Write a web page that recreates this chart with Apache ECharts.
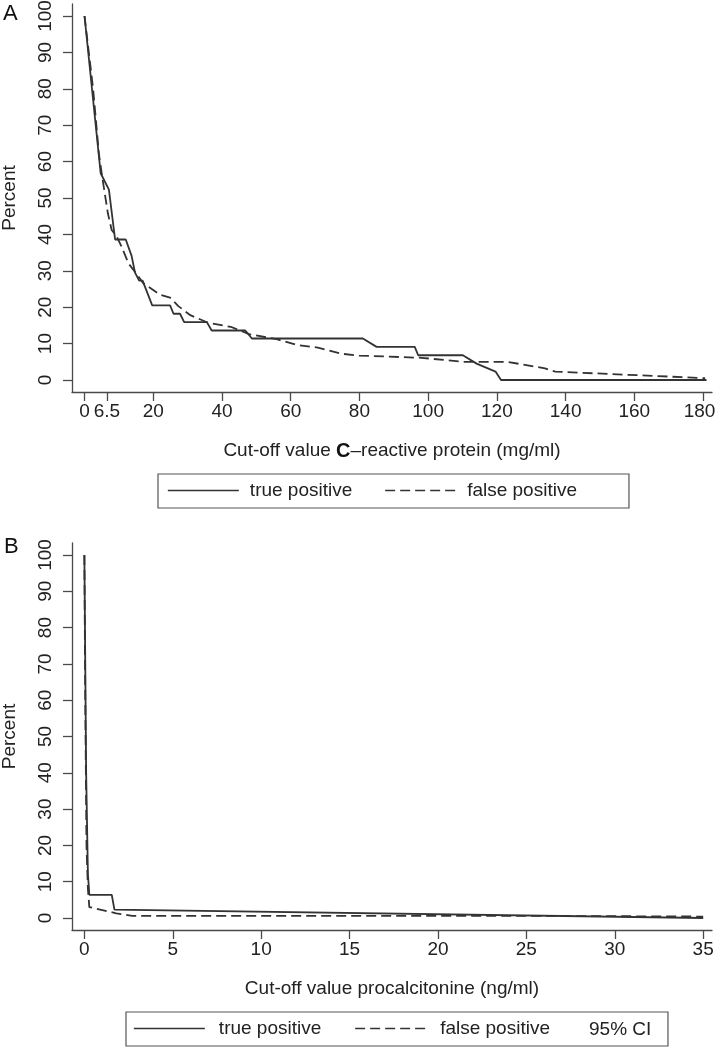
<!DOCTYPE html>
<html>
<head>
<meta charset="utf-8">
<script src="https://cdn.jsdelivr.net/npm/echarts@6/dist/echarts.min.js"></script>
<style>
html,body{margin:0;padding:0;background:#fff;}
#c{width:717px;height:1049px;}
</style>
</head>
<body>
<div id="c"></div>
<script>
// ---- Panel A: C-reactive protein ----
const crpTicks = [0, 6.5, 20, 40, 60, 80, 100, 120, 140, 160, 180];
const crpTruePositive = [
  [0,100],[4.7,56.8],[7.1,52.3],[8.9,38.6],[12,38.6],[13.7,34.1],[14.7,29.5],[15.9,27.3],
  [16.9,27.3],[19.7,20.5],[24.9,20.5],[25.9,18.2],[27.8,18.2],[29,15.9],[35.6,15.9],
  [37,13.6],[46.8,13.6],[48.7,11.4],[81,11.4],[85,9.1],[96.1,9.1],[97.1,6.8],[110.1,6.8],
  [114.1,4.5],[119.6,2.3],[121.2,0],[181,0]
];
const crpFalsePositive = [
  [0,100],[2.5,80],[4.2,62],[5.3,54.9],[6.8,45.8],[7.9,41.2],[9.4,39.4],[10.8,36.6],
  [12.8,32],[15,29.3],[17.1,26.6],[22,23.4],[24.9,22.6],[27.3,20.3],[30.8,17.8],
  [35.8,15.8],[42.9,14.5],[47.9,12.6],[55.9,11.2],[61.9,9.6],[67.9,8.9],[74.9,7.2],
  [79.9,6.7],[98,6.1],[110,5.0],[123,5.0],[134,3.2],[137,2.3],[180.6,0.5]
];
// ---- Panel B: procalcitonine ----
const pctTicks = [0, 5, 10, 15, 20, 25, 30, 35];
const pctTruePositive = [
  [0,100],[0.1,40],[0.2,12],[0.25,8.7],[0.28,6.4],[1.55,6.4],[1.7,2.3],[35,0]
];
const pctFalsePositive = [
  [0,100],[0.05,60],[0.12,20],[0.2,8],[0.28,3.0],[1.8,1.3],[2.7,0.6],[25,0.6],[35,0.4]
];
const yTicks = [0,10,20,30,40,50,60,70,80,90,100];
const seriesNames = ['true positive', 'false positive'];
const ciLabel = '95% CI';

const FONT = '"Liberation Sans", Arial, sans-serif';
const TXT = '#222';
const AX = '#4a4a4a';
const LINE = '#333';

function xAxis(gridIndex, min, max, ticks, name, rich) {
  const last = ticks[ticks.length - 1];
  return {
    type: 'value', gridIndex, min, max,
    axisLine: {show: true, onZero: false, lineStyle: {color: AX, width: 1.3}},
    axisTick: {show: true, length: 9, customValues: ticks, lineStyle: {color: AX, width: 1.3}},
    axisLabel: {customValues: ticks, fontSize: 19, color: TXT, fontFamily: FONT, margin: 10,
      formatter: v => (v === last && String(v).length > 2) ? '{e|' + v + '}' : String(v),
      rich: {e: {fontSize: 19, color: TXT, fontFamily: FONT, padding: [0, 7, 0, 0]}}},
    splitLine: {show: false},
    name, nameLocation: 'middle', nameGap: 49,
    nameTextStyle: Object.assign({fontSize: 19, color: TXT, fontFamily: FONT}, rich ? {rich} : {})
  };
}
function yAxis(gridIndex) {
  return {
    type: 'value', gridIndex, min: -3.3, max: 103.3,
    axisLine: {show: true, onZero: false, lineStyle: {color: AX, width: 1.3}},
    axisTick: {show: true, length: 9, customValues: yTicks, lineStyle: {color: AX, width: 1.3}},
    axisLabel: {customValues: yTicks, rotate: 90, fontSize: 19, color: TXT, fontFamily: FONT, margin: 17},
    splitLine: {show: false},
    name: 'Percent', nameLocation: 'middle', nameGap: 53,
    nameTextStyle: {fontSize: 19, color: TXT, fontFamily: FONT}
  };
}
function line(name, data, xi, dashed) {
  return {
    type: 'line', name, data, xAxisIndex: xi, yAxisIndex: xi,
    showSymbol: false, symbol: 'none', animation: false,
    lineStyle: {color: LINE, width: 1.8, type: dashed ? [10, 5] : 'solid'},
    itemStyle: {color: LINE}
  };
}
function legend(left, top, padding, textPad, gap) {
  return {
    left, top, orient: 'horizontal', itemWidth: 71, itemHeight: 10, itemGap: gap,
    padding, borderColor: '#555', borderWidth: 1.2, borderRadius: 0,
    textStyle: {fontSize: 19, color: TXT, fontFamily: FONT, padding: [0, 0, 0, textPad]},
    data: seriesNames.map((n, i) => ({name: n,
      itemStyle: {opacity: 0},
      lineStyle: {color: LINE, width: 1.7, type: i ? [10, 5] : 'solid'}})),
    selectedMode: false
  };
}

const chart = echarts.init(document.getElementById('c'), null, {renderer: 'canvas'});
chart.setOption({
  backgroundColor: '#fff',
  animation: false,
  grid: [
    {left: 72, right: 5, top: 4, height: 388, containLabel: false, outerBoundsMode: 'none'},
    {left: 72, right: 5, top: 543, height: 387, containLabel: false, outerBoundsMode: 'none'}
  ],
  xAxis: [
    xAxis(0, -3.64, 182.6, crpTicks, '{a|Cut-off value }{b|C}{a|–reactive protein (mg/ml)}',
      {a: {fontSize: 19, color: TXT, fontFamily: FONT}, b: {fontSize: 20, color: '#111', fontWeight: 'bold', fontFamily: FONT}}),
    xAxis(1, -0.7, 35.5, pctTicks, 'Cut-off value procalcitonine (ng/ml)')
  ],
  yAxis: [yAxis(0), yAxis(1)],
  legend: [
    legend(158, 474, [7, 52, 8, 9], 6, 32),
    legend(126, 1012, [7, 118, 8, 7], 9, 33)
  ],
  series: [
    line(seriesNames[0], crpTruePositive, 0, false),
    line(seriesNames[1], crpFalsePositive, 0, true),
    line(seriesNames[0], pctTruePositive, 1, false),
    line(seriesNames[1], pctFalsePositive, 1, true)
  ],
  graphic: [
    {type: 'text', left: 3, top: 3, style: {text: 'A', fontSize: 22, fill: '#111', fontFamily: FONT}},
    {type: 'text', left: 4, top: 536, style: {text: 'B', fontSize: 22, fill: '#111', fontFamily: FONT}},
    {type: 'text', left: 589, top: 1020, style: {text: ciLabel, fontSize: 19, fill: TXT, fontFamily: FONT}}
  ]
});
</script>
</body>
</html>
